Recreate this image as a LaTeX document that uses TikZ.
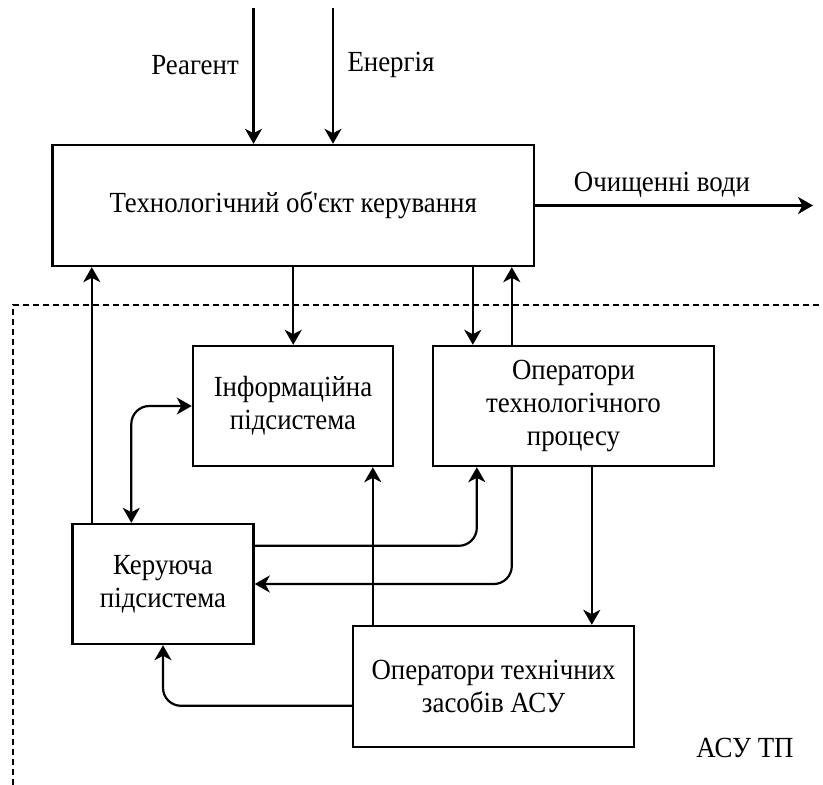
\documentclass[tikz,border=0pt]{standalone}
\usepackage{fontspec}
\setmainfont{Liberation Serif}[FakeStretch=0.92]
\newfontfamily\plainserif{Liberation Serif}[FakeStretch=0.92]
\usetikzlibrary{arrows.meta}

\begin{document}
\begin{tikzpicture}[x=0.5pt,y=-0.5pt]
        \tikzstyle{every node} = [font=\fontsize{14.6}{16.5}\selectfont]
        \tikzstyle{block} = [rectangle, draw, line width=1.2pt, align=center, inner sep=0pt]
        \tikzstyle{arr} = [-{Stealth[length=7.5pt,width=8.5pt,inset=2.2pt]}, line width=1.1pt, rounded corners=9pt]
        \tikzstyle{arrboth} = [{Stealth[length=7.5pt,width=8.5pt,inset=2.2pt]}-{Stealth[length=7.5pt,width=8.5pt,inset=2.2pt]}, line width=1.1pt, rounded corners=9pt]
        \tikzstyle{border} = [dashed, line width=1.1pt, dash pattern=on 3pt off 2pt]
        \useasboundingbox (0,0) rectangle (823,785);

        \node[block, minimum width=240.75pt, minimum height=60.5pt] (tob) at (293.25,205.5) {Технологічний об{\plainserif '}єкт керування};
        \node[block, minimum width=100pt, minimum height=60pt] (info) at (293,406) {Інформаційна\\підсистема};
        \node[block, minimum width=140.5pt, minimum height=60pt] (oper) at (573.5,406) {Оператори\\технологічного\\процесу};
        \node[block, minimum width=90.5pt, minimum height=60pt] (ctrl) at (163,584) {Керуюча\\підсистема};
        \node[block, minimum width=140.5pt, minimum height=60.5pt] (tz) at (493.5,686.5) {Оператори технічних\\засобів АСУ};

        \node (reaglbl) at (195,65) {Реагент};
        \node (energlbl) at (391,65) {Енергія};
        \node (outlbl) at (662,185) {Очищенні води};
        \node (asulbl) at (745,748) {АСУ ТП};

        % free ends and side points
        \coordinate (reag) at (253.5,8);
        \coordinate (energ) at (333,8);
        \coordinate (out) at (813,205.5);
        \coordinate (dashA) at (13,785);
        \coordinate (dashB) at (823,305);
        \coordinate (opin) at ([xshift=20.5pt]oper.north west);
        \coordinate (opout) at ([xshift=40pt]oper.north west);
        \coordinate (ctup) at ([xshift=10.25pt]ctrl.north west);
        \coordinate (ctinf) at ([xshift=30pt]ctrl.north west);
        \coordinate (ctop) at ([yshift=-11.5pt]ctrl.north east);
        \coordinate (opct) at ([xshift=22.5pt]oper.south west);
        \coordinate (opback) at ([xshift=40pt]oper.south west);
        \coordinate (optz) at ([xshift=80pt]oper.south west);
        \coordinate (tzinf) at ([xshift=10.5pt]tz.north west);
        \coordinate (tzct) at ([yshift=-40.5pt]tz.north west);

        \foreach \c in {reag, energ}
            \draw[arr] (\c) -- (\c |- tob.north);
        \draw[arr] (tob.east) -- (out);
        \draw[arr] (tob.south) -- (tob.south |- info.north);
        \draw[arr] (opin |- tob.south) -- (opin);
        \draw[arr] (opout) -- (opout |- tob.south);
        \draw[arr] (ctup) -- (ctup |- tob.south);
        \draw[arrboth] (ctinf) |- (info.west);
        \draw[arr] (ctop) -| (opct);
        \draw[arr] (opback) |- (ctrl.east);
        \draw[arr] (optz) -- (optz |- tz.north);
        \draw[arr] (tzinf) -- (tzinf |- info.south);
        \draw[arr] (tzct) -| (ctrl.south);

        \draw[border] (dashA) |- (dashB);
    \end{tikzpicture}
\end{document}
